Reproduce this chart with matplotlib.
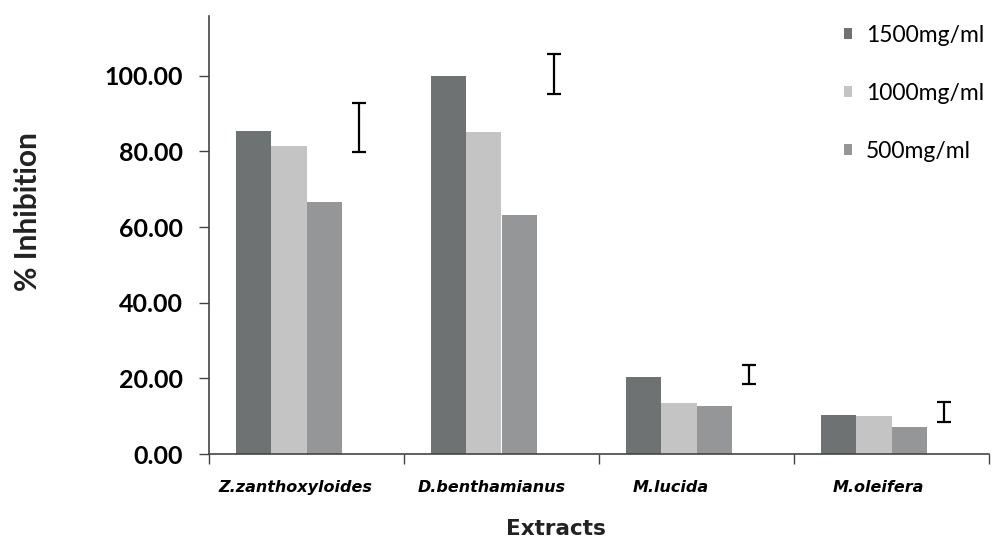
import numpy as np
import matplotlib.pyplot as plt
from matplotlib.transforms import ScaledTranslation

extracts = ['Z.zanthoxyloides', 'D.benthamianus', 'M.lucida', 'M.oleifera']
dose_1500 = [85.3, 100.0, 20.4, 10.2]
dose_1000 = [81.3, 85.0, 13.5, 10.0]
dose_500 = [66.5, 63.3, 12.7, 7.1]
# error bars sit in an empty fourth slot of each group
err_mean = [86.3, 100.4, 21.0, 11.1]
err_sd = [6.5, 5.3, 2.6, 2.6]
yticks = [0, 20, 40, 60, 80, 100]

c_dark = '#6f7273'
c_light = '#c4c4c4'
c_mid = '#959698'

fig = plt.figure(figsize=(9.92, 5.39), dpi=100)
ax = fig.add_axes([209 / 992, 85 / 539, 780 / 992, 438 / 539])

x = np.arange(len(extracts))
w = 0.18
ax.bar(x - 1.5 * w, dose_1500, w, color=c_dark, label='1500mg/ml')
ax.bar(x - 0.5 * w, dose_1000, w, color=c_light, label='1000mg/ml')
ax.bar(x + 0.5 * w, dose_500, w, color=c_mid, label='500mg/ml')
ax.errorbar(x + 1.5 * w, err_mean, yerr=err_sd, fmt='none', ecolor='black',
            elinewidth=1.6, capsize=5, capthick=1.6)

ax.set_xlim(-0.5, 3.5)
ax.set_ylim(0, 115.8)
ax.set_yticks(yticks)
ax.set_yticklabels([f'{v:.2f}' for v in yticks], fontsize=18, fontweight='bold',
                   family='Lato')
ax.set_xticks(np.arange(-0.5, 4.0, 1.0))
ax.set_xticklabels([])
ax.set_xticks(x, minor=True)
ax.set_xticklabels(extracts, minor=True, fontsize=11.5, fontweight='bold',
                   style='italic', family='DejaVu Sans')
ax.tick_params(axis='x', which='major', length=7, width=1, color='#444444', direction='out')
ax.tick_params(axis='x', which='minor', length=0, pad=19)
ax.tick_params(axis='y', length=7, width=1, color='#444444', pad=12)

# the category labels sit a little left of the group centres
label_shift_px = [-11, -10, -26, -13]
for lab, dx in zip(ax.get_xticklabels(minor=True), label_shift_px):
    lab.set_transform(lab.get_transform() + ScaledTranslation(dx / 100, 0, fig.dpi_scale_trans))

for s in ['top', 'right']:
    ax.spines[s].set_visible(False)
for s in ['left', 'bottom']:
    ax.spines[s].set_color('#444444')
    ax.spines[s].set_linewidth(1.2)

fig.text(28 / 992, 1 - 212 / 539, '% Inhibition', rotation=90, ha='center', va='center',
         fontsize=21.5, fontweight='bold', family='Lato', color='#222222')
fig.text(556 / 992, 1 - 529 / 539, 'Extracts', ha='center', va='center',
         fontsize=15.5, fontweight='bold', family='DejaVu Sans', color='#222222')

leg = ax.legend(loc='upper right', bbox_to_anchor=(1.02, 1.027), frameon=False,
                handlelength=0.36, handleheight=0.36, handletextpad=0.6,
                labelspacing=1.62, prop={'family': 'Lato', 'size': 16.5})

fig.savefig('out.png', dpi=100)
